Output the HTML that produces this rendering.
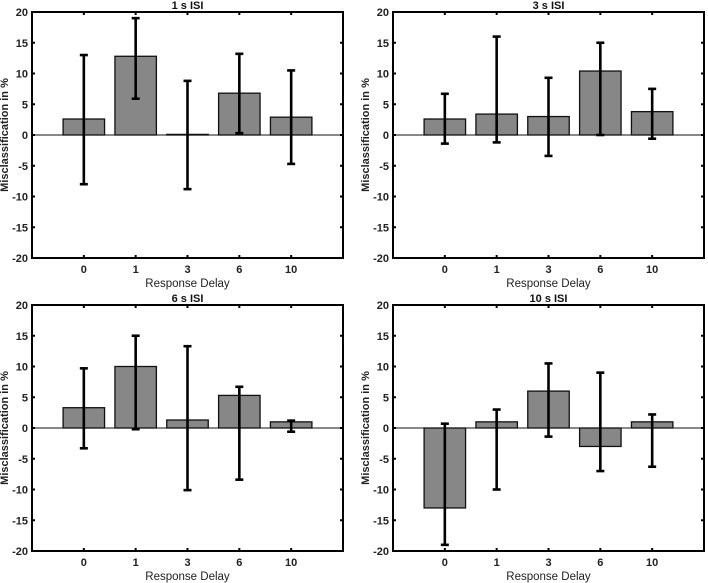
<!DOCTYPE html>
<html><head><meta charset="utf-8"><style>
body{margin:0;background:#fff;width:708px;height:583px;overflow:hidden}
svg{display:block;font-family:"Liberation Sans",sans-serif}
</style></head><body>
<svg id="c" width="708" height="583"></svg>
<script>
const categories = ["0","1","3","6","10"];
const titles = ["1 s ISI","3 s ISI","6 s ISI","10 s ISI"];
const means1 = [2.6,12.8,0.1,6.8,2.9];
const lo1 = [-8,5.9,-8.8,0.3,-4.7];
const hi1 = [13,19,8.8,13.2,10.5];
const means3 = [2.6,3.4,3.0,10.4,3.8];
const lo3 = [-1.4,-1.2,-3.4,0,-0.6];
const hi3 = [6.7,16,9.3,15,7.5];
const means6 = [3.3,10,1.3,5.3,1.0];
const lo6 = [-3.3,-0.2,-10.1,-8.4,-0.6];
const hi6 = [9.7,15,13.3,6.7,1.2];
const means10 = [-13,1,6,-3,1];
const lo10 = [-19,-10,-1.4,-7,-6.3];
const hi10 = [0.7,3,10.5,9,2.2];
const yTicks = [20,15,10,5,0,-5,-10,-15,-20];

const series = [[means1,lo1,hi1],[means3,lo3,hi3],[means6,lo6,hi6],[means10,lo10,hi10]];
const boxes = [[32,12],[393,12],[32,305],[393,305]];
const W = 311, H = 246;
const svg = document.getElementById('c');
const NS = 'http://www.w3.org/2000/svg';
function mk(tag, attrs, parent){const e=document.createElementNS(NS,tag);for(const k in attrs)e.setAttribute(k,attrs[k]);parent.appendChild(e);return e;}

series.forEach((s,p)=>{
  const [x0,y0] = boxes[p];
  const g = mk('g',{},svg);
  
  
  const ys = v => y0 + (20 - v)/40*H;
  const step = W/(categories.length+1);
  const xs = i => x0 + (i+1)*step;
  const bw = step*0.8;
  // bars
  s[0].forEach((v,i)=>{
    const r = mk('rect',{x:xs(i)-bw/2,y:Math.min(ys(v),ys(0)),width:bw,height:Math.abs(ys(v)-ys(0)),fill:'#878787',stroke:'#111','stroke-width':1.3},g);
    
    
  });
  // zero line
  mk('line',{x1:x0,x2:x0+W,y1:ys(0),y2:ys(0),stroke:'#111','stroke-width':1},g);
  // error bars
  s[0].forEach((v,i)=>{
    const eg = mk('g',{stroke:'#000','stroke-width':2.6},g);
    
    
    const x = xs(i);
    mk('line',{x1:x,x2:x,y1:ys(s[1][i]),y2:ys(s[2][i])},eg);
    mk('line',{x1:x-4,x2:x+4,y1:ys(s[1][i]),y2:ys(s[1][i])},eg);
    mk('line',{x1:x-4,x2:x+4,y1:ys(s[2][i]),y2:ys(s[2][i])},eg);
  });
  // frame
  mk('rect',{x:x0,y:y0,width:W,height:H,fill:'none',stroke:'#000','stroke-width':2},g);
  // y ticks
  yTicks.forEach(t=>{
    mk('line',{x1:x0,x2:x0+3,y1:ys(t),y2:ys(t),stroke:'#000','stroke-width':2},g);
    mk('line',{x1:x0+W-3,x2:x0+W,y1:ys(t),y2:ys(t),stroke:'#000','stroke-width':2},g);
    const tx = mk('text',{x:x0-4,y:ys(t)+4,'text-anchor':'end','font-size':11,'font-weight':'bold',fill:'#222'},g);
    tx.textContent = t;
    
    
  });
  categories.forEach((c,i)=>{
    mk('line',{x1:xs(i),x2:xs(i),y1:y0,y2:y0+3,stroke:'#000','stroke-width':2},g);
    mk('line',{x1:xs(i),x2:xs(i),y1:y0+H-3,y2:y0+H,stroke:'#000','stroke-width':2},g);
    const tx = mk('text',{x:xs(i),y:y0+H+15,'text-anchor':'middle','font-size':11,'font-weight':'bold',fill:'#222'},g);
    tx.textContent = c;
    
    
  });
  const tt = mk('text',{x:x0+W/2,y:y0-3,'text-anchor':'middle','font-size':11,'font-weight':'bold',fill:'#111'},g);
  tt.textContent = titles[p];
  
  
  const xt = mk('text',{x:x0+W/2,y:y0+H+29,'text-anchor':'middle','font-size':11.5,fill:'#222'},g);
  xt.textContent = 'Response Delay';
  
  
  const yt = mk('text',{x:0,y:0,'text-anchor':'middle','font-size':11,'font-weight':'bold',fill:'#222',transform:`translate(${x0-24},${y0+H/2}) rotate(-90)`},g);
  yt.textContent = 'Misclassification in %';
  
  
});
</script>
</body></html>
